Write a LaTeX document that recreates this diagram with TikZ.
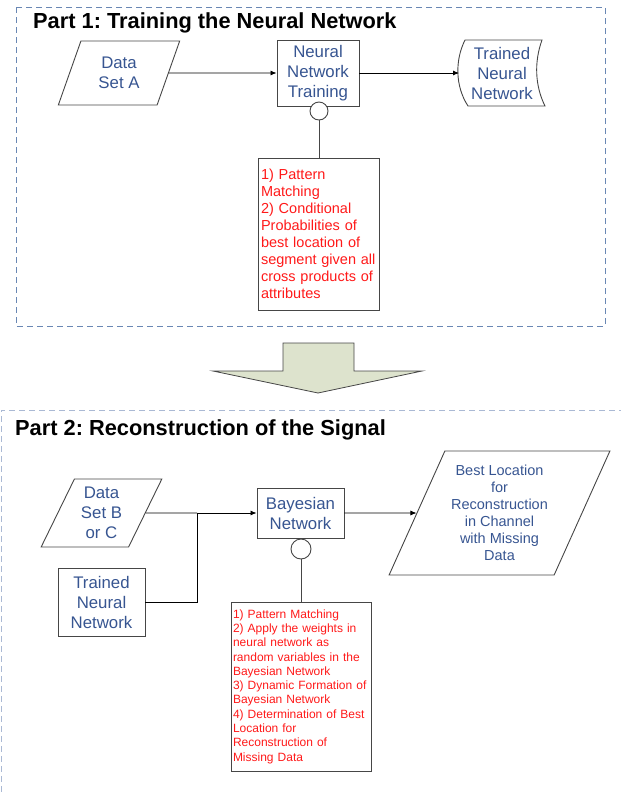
\documentclass[tikz,border=0pt]{standalone}
\usepackage{fontspec}
\setmainfont{Liberation Sans}
\usetikzlibrary{shapes.geometric,arrows.meta}
\frenchspacing
\definecolor{txtblue}{RGB}{55,85,145}
\definecolor{frameone}{RGB}{105,135,180}
\definecolor{frametwo}{RGB}{170,185,212}
\definecolor{bigfill}{RGB}{221,227,205}
\definecolor{notered}{RGB}{255,25,25}
\definecolor{edgegray}{RGB}{70,70,70}
\begin{document}
\begin{tikzpicture}[x=1pt,y=-1pt]
	% sizes
	\def\lw{0.9pt}
	% node style definition
	\tikzstyle{title} = [font=\fontsize{21.8}{24}\selectfont\bfseries, anchor=base west, inner sep=0];
	\tikzstyle{proc} = [draw=edgegray, line width=\lw, rectangle, align=center, text=txtblue, font=\fontsize{16.8}{20}\selectfont];
	\tikzstyle{io} = [draw=edgegray, line width=\lw, trapezium, trapezium stretches=true, align=center, text=txtblue, font=\fontsize{16.8}{20}\selectfont, inner sep=0];
	\tikzstyle{note} = [draw=edgegray, line width=\lw, rectangle, align=left, text=notered];
	\tikzstyle{knob} = [draw=edgegray, line width=\lw, circle, fill=white, inner sep=0];
	\tikzstyle{link} = [draw=black, line width=0.8pt];
	\tikzstyle{flow} = [link, -{Latex[length=6pt,width=5pt]}];
	\useasboundingbox (0,0) rectangle (621,793);
	% frames
	\draw[frameone, line width=1pt, dash pattern=on 6pt off 4pt] (16,7) rectangle (605,326);
	\draw[frametwo, line width=1pt, dash pattern=on 6pt off 4pt] (625,410) -- (1,410) -- (1,797);
	\node[title] (title1) at (33,28) {Part 1: Training the Neural Network};
	\node[title] (title2) at (15,435) {Part 2: Reconstruction of the Signal};
	% part 1
	\node[io, trapezium left angle=69, trapezium right angle=111, minimum width=122, minimum height=64] (dataA) at (119,73) {Data\\Set A};
	\node[proc, minimum width=82, minimum height=66] (nntrain) at (318,73) {Neural\\Network\\Training};
	\node[text=txtblue, align=center, font=\fontsize{16.8}{20}\selectfont] (tnn1) at (502,73) {Trained\\Neural\\Network};
	\draw[edgegray, line width=\lw] (465,40) -- (542,40) .. controls (534,62) and (535,86) .. (545,106) -- (468,106) .. controls (455,86) and (455,60) .. cycle;
	\coordinate (tnn1w) at (459,73);
	\node[knob, minimum size=18] (knob1) at (319,111) {};
	\node[note, minimum width=121, minimum height=152, text width=115, inner xsep=3, font=\fontsize{14.5}{17}\selectfont] (note1) at (318.5,234) {1) Pattern\\Matching\\2) Conditional\\Probabilities of\\best location of\\segment given all\\cross products of\\attributes};
	\draw[flow] (dataA.east) -- (nntrain.west);
	\draw[flow] (nntrain.east) -- (tnn1w);
	\draw[proc] (knob1.south) -- (knob1.south |- note1.north);
	% big arrow
	\draw[edgegray, line width=0.8pt, fill=bigfill] (283,343) -- (354,343) -- (354,371) -- (422,371) -- (318,393) -- (213,371) -- (283,371) -- cycle;
	% part 2
	\node[io, trapezium left angle=64, trapezium right angle=116, minimum width=121, minimum height=68] (dataB) at (101.5,513) {Data\\Set B\\or C};
	\node[proc, minimum width=87, minimum height=68] (tnn2) at (101.5,602) {Trained\\Neural\\Network};
	\node[proc, minimum width=87, minimum height=50] (bayes) at (300.5,513) {Bayesian\\Network};
	\node[io, trapezium left angle=62.7, trapezium right angle=117.3, minimum width=221, minimum height=124, font=\fontsize{14.5}{17}\selectfont] (best) at (499.5,513) {Best Location\\for\\Reconstruction\\in Channel\\with Missing\\Data};
	\node[knob, minimum size=20] (knob2) at (301,549) {};
	\node[note, minimum width=140, minimum height=169, text width=136, inner xsep=2, font=\fontsize{12}{14.3}\selectfont] (note2) at (301,686.5) {1) Pattern Matching\\2) Apply the weights in\\neural network as\\random variables in the\\Bayesian Network\\3) Dynamic Formation of\\Bayesian Network\\4) Determination of Best\\Location for\\Reconstruction of\\Missing Data};
	\coordinate (junc) at (197,513);
	\draw[link] (dataB.east) -- (junc);
	\draw[flow] (junc) -- (bayes.west);
	\draw[link] (tnn2.east) -| (junc);
	\draw[flow] (bayes.east) -- (best.west);
	\draw[proc] (knob2.south) -- (knob2.south |- note2.north);
\end{tikzpicture}
\end{document}
